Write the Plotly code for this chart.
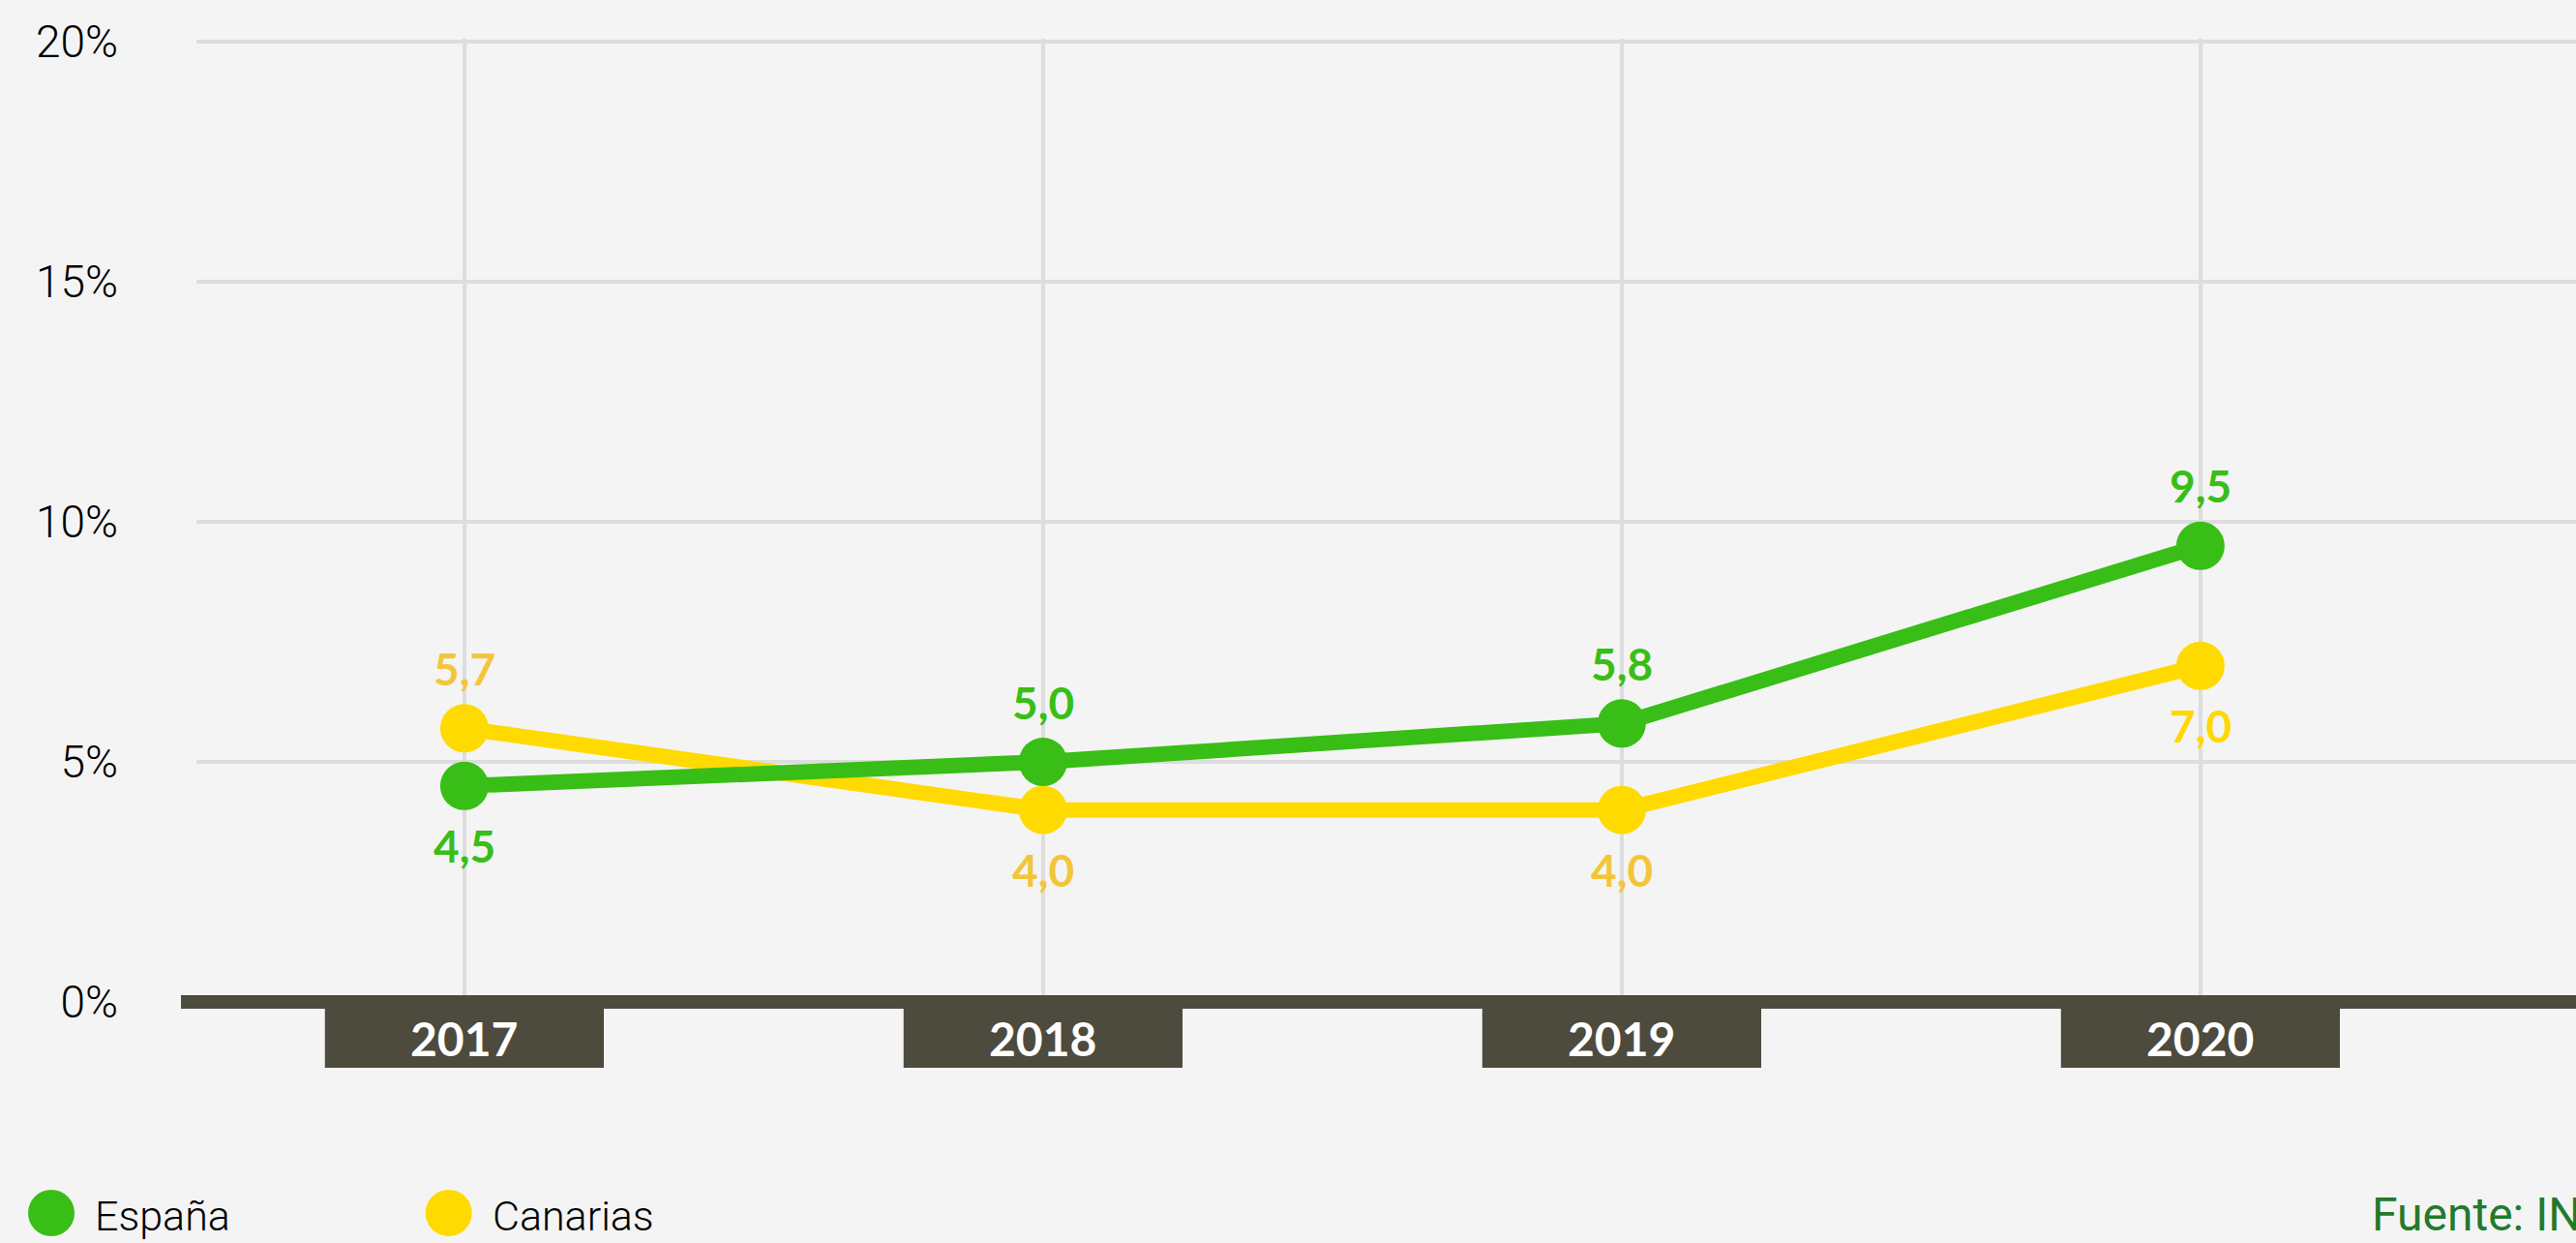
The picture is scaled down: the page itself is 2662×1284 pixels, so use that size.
import plotly.graph_objects as go

# data
years = ["2017", "2018", "2019", "2020"]
espana = [4.5, 5.0, 5.8, 9.5]
canarias = [5.7, 4.0, 4.0, 7.0]
series_names = ["España", "Canarias"]
y_ticks = [0, 5, 10, 15, 20]
source_text = "Fuente: INE"

# label above (+1) or below (-1) each point
espana_side = [-1, 1, 1, 1]
canarias_side = [1, -1, -1, -1]

GREEN = "#38BE16"
YELLOW = "#FFDA00"
YELLOW_LABEL = ["#F3C53A", "#F3C53A", "#F3C53A", "#FFD800"]
DARK = "#4D4A3E"
BG = "#F4F4F4"
GRID = "#DDDDDD"

LABEL_FONT = dict(family="Lato", size=46, weight="bold")


def fmt(v):
    return f"{v:.1f}".replace(".", ",")


fig = go.Figure()

# Canarias first so the green line sits on top
fig.add_trace(
    go.Scatter(
        x=years,
        y=canarias,
        name=series_names[1],
        mode="lines+markers",
        line=dict(color=YELLOW, width=16),
        marker=dict(color=YELLOW, size=50),
    )
)

fig.add_trace(
    go.Scatter(
        x=years,
        y=espana,
        name=series_names[0],
        mode="lines+markers",
        line=dict(color=GREEN, width=16),
        marker=dict(color=GREEN, size=50),
    )
)

# value labels
for vals, sides, cols in [
    (espana, espana_side, [GREEN] * 4),
    (canarias, canarias_side, YELLOW_LABEL),
]:
    for i, (v, s, c) in enumerate(zip(vals, sides, cols)):
        fig.add_annotation(
            x=i,
            y=v,
            xref="x",
            yref="y",
            text=fmt(v),
            showarrow=False,
            yanchor="middle",
            yshift=62 * s,
            font=dict(color=c, **LABEL_FONT),
        )

# thick dark baseline
fig.add_shape(
    type="line",
    xref="paper",
    yref="y",
    x0=-0.0065,
    x1=1.0,
    y0=0,
    y1=0,
    line=dict(color=DARK, width=14),
    layer="above",
)

# year boxes under the baseline
for i, yr in enumerate(years):
    fig.add_shape(
        type="rect",
        xref="x",
        yref="paper",
        x0=i - 0.241,
        x1=i + 0.241,
        y0=0.001,
        y1=-0.0598,
        fillcolor=DARK,
        line_width=0,
        layer="above",
    )
    fig.add_annotation(
        x=i,
        y=-0.029,
        xref="x",
        yref="paper",
        text=yr,
        showarrow=False,
        yanchor="middle",
        font=dict(family="Lato", size=48, color="white", weight="bold"),
    )

# hand made legend
legend_x = [-0.061, 0.106]
legend_colors = [GREEN, YELLOW]
for name, lx, col in zip(series_names, legend_x, legend_colors):
    fig.add_shape(
        type="circle",
        xref="paper",
        yref="paper",
        xsizemode="pixel",
        ysizemode="pixel",
        xanchor=lx,
        yanchor=-0.2094,
        x0=-24,
        x1=24,
        y0=-24,
        y1=24,
        fillcolor=col,
        line_width=0,
    )
    fig.add_annotation(
        x=lx + 0.0175,
        y=-0.212,
        xref="paper",
        yref="paper",
        text=name,
        showarrow=False,
        xanchor="left",
        yanchor="middle",
        font=dict(family="Roboto", size=43, color="black", weight=300),
    )

# source note, runs off the right edge as in the original crop
fig.add_annotation(
    x=0.9135,
    y=-0.211,
    xref="paper",
    yref="paper",
    text=source_text,
    showarrow=False,
    xanchor="left",
    yanchor="middle",
    font=dict(family="Roboto", size=48, color="#217A2C"),
)

fig.update_xaxes(
    type="category",
    range=[-0.463, 3.649],
    showgrid=True,
    gridcolor=GRID,
    gridwidth=4,
    showticklabels=False,
    showline=False,
    zeroline=False,
)

fig.update_yaxes(
    range=[-0.16, 20.06],
    tickvals=y_ticks,
    ticktext=[f"{v}%" for v in y_ticks],
    showgrid=True,
    gridcolor=GRID,
    gridwidth=4,
    zeroline=False,
    showline=False,
    ticklabelstandoff=80,
    tickfont=dict(family="Roboto", size=46, color="black", weight=300),
)

fig.update_layout(
    width=2662,
    height=1284,
    margin=dict(l=203, r=0, t=40, b=241),
    paper_bgcolor=BG,
    plot_bgcolor=BG,
    showlegend=False,
)

# drop the default page margin so the figure fills the window
fig.write_html(
    "out.html",
    config={"displayModeBar": False},
    post_script="document.body.style.margin='0';document.body.style.background='#F4F4F4';",
)
